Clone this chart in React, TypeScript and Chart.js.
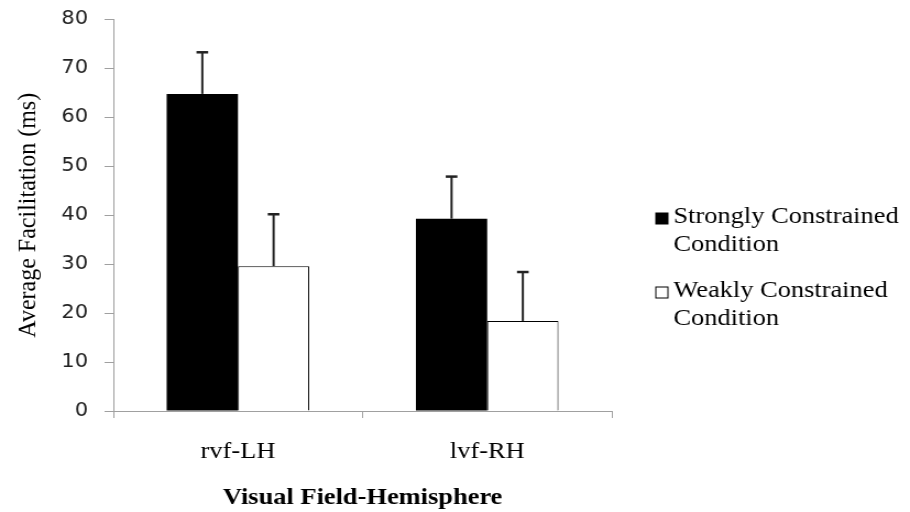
import React, { useEffect, useRef } from "react";
import { Chart, registerables } from "chart.js";

Chart.register(...registerables);

const categories = ["rvf-LH", "lvf-RH"];
const strongValues = [64.8, 39.3];
const weakValues = [29.6, 18.4];
const strongErrors = [8.5, 8.6];
const weakErrors = [10.6, 10.0];
const strongLabel = ["Strongly Constrained", "Condition"];
const weakLabel = ["Weakly Constrained", "Condition"];
const yTicks = [0, 10, 20, 30, 40, 50, 60, 70, 80];

const INTERNAL_W = 827;
const H = 512;
const SERIF = "'Liberation Serif', 'Times New Roman', serif";

const errorBarPlugin = {
  id: "errorBars",
  afterDatasetsDraw(chart: any) {
    const ctx = chart.ctx;
    const yScale = chart.scales.y;
    chart.data.datasets.forEach((ds: any, di: number) => {
      const meta = chart.getDatasetMeta(di);
      const errs: number[] = ds.errors || [];
      meta.data.forEach((bar: any, i: number) => {
        const v = ds.data[i];
        const top = yScale.getPixelForValue(v + errs[i]);
        ctx.save();
        ctx.strokeStyle = "#222";
        ctx.lineWidth = 2;
        ctx.beginPath();
        ctx.moveTo(bar.x, bar.y);
        ctx.lineTo(bar.x, top);
        ctx.stroke();
        ctx.lineWidth = 2.5;
        ctx.beginPath();
        ctx.moveTo(bar.x - 5.3, top);
        ctx.lineTo(bar.x + 5.3, top);
        ctx.stroke();
        ctx.restore();
      });
    });
  },
};

const legendPlugin = {
  id: "customLegend",
  afterDraw(chart: any) {
    const ctx = chart.ctx;
    const groups = [
      { lines: chart.data.datasets[0].legendLines, fill: chart.data.datasets[0].backgroundColor, y: 217 },
      { lines: chart.data.datasets[1].legendLines, fill: chart.data.datasets[1].backgroundColor, y: 291 },
    ];
    ctx.save();
    ctx.font = `24px ${SERIF}`;
    ctx.textBaseline = "middle";
    ctx.textAlign = "left";
    ctx.fillStyle = "#000";
    groups.forEach((g) => {
      ctx.fillStyle = g.fill;
      ctx.fillRect(596, g.y - 4, 11, 11);
      ctx.strokeStyle = "#000";
      ctx.lineWidth = 1;
      ctx.strokeRect(596, g.y - 4, 11, 11);
      ctx.fillStyle = "#000";
      g.lines.forEach((ln: string, k: number) => {
        ctx.fillText(ln, 612, g.y + k * 28);
      });
    });
    ctx.restore();
  },
};

export default function App() {
  const ref = useRef<HTMLCanvasElement | null>(null);
  useEffect(() => {
    if (!ref.current) return;
    const chart = new Chart(ref.current, {
      type: "bar",
      data: {
        labels: categories,
        datasets: [
          {
            label: strongLabel.join(" "),
            data: strongValues,
            errors: strongErrors,
            legendLines: strongLabel,
            backgroundColor: "#000000",
            borderColor: "#000000",
            borderWidth: 0,
            barPercentage: 1,
            categoryPercentage: 0.572,
          } as any,
          {
            label: weakLabel.join(" "),
            data: weakValues,
            errors: weakErrors,
            legendLines: weakLabel,
            backgroundColor: "#ffffff",
            borderColor: "#000000",
            borderWidth: 1,
            barPercentage: 1,
            categoryPercentage: 0.572,
          } as any,
        ],
      },
      options: {
        responsive: false,
        animation: false,
        devicePixelRatio: 1,
        layout: { padding: { left: 0, right: 271, top: 19.5, bottom: 0 } },
        plugins: {
          legend: { display: false },
          tooltip: { enabled: false },
        },
        scales: {
          x: {
            offset: true,
            grid: {
              offset: true,
              drawOnChartArea: false,
              drawTicks: true,
              tickLength: 7,
              color: "#a0a0a0",
            },
            border: { color: "#a0a0a0", width: 1 },
            ticks: {
              font: { family: SERIF, size: 24 },
              color: "#000",
              padding: 19,
            },
            title: {
              display: true,
              text: "Visual Field-Hemisphere",
              font: { family: SERIF, size: 24, weight: "bold" },
              color: "#000",
              padding: { top: 0, bottom: 0 },
            },
            afterFit(scale: any) {
              scale.height = 101;
              scale.paddingLeft = 0;
              scale.paddingRight = 0;
            },
          },
          y: {
            min: 0,
            max: 80,
            afterBuildTicks(scale: any) {
              scale.ticks = yTicks.map((v) => ({ value: v }));
            },
            grid: {
              drawOnChartArea: false,
              drawTicks: true,
              tickLength: 8,
              color: "#a0a0a0",
            },
            border: { color: "#a0a0a0", width: 1 },
            ticks: {
              font: { family: "'DejaVu Sans', Verdana, sans-serif", size: 19 },
              color: "#222",
              padding: 15,
            },
            title: {
              display: true,
              text: "Average Facilitation (ms)",
              font: { family: SERIF, size: 24 },
              color: "#000",
              padding: { top: 11, bottom: 0 },
            },
            afterFit(scale: any) {
              scale.width = 103;
              scale.paddingTop = 0;
              scale.paddingBottom = 0;
            },
          },
        },
      } as any,
      plugins: [errorBarPlugin, legendPlugin],
    });
    return () => chart.destroy();
  }, []);
  return (
    <div style={{ position: "fixed", left: 0, top: 0, width: 910, height: H, background: "#fff" }}>
      <canvas
        ref={ref}
        width={INTERNAL_W}
        height={H}
        style={{ display: "block", width: "910px", height: `${H}px` }}
      />
    </div>
  );
}
